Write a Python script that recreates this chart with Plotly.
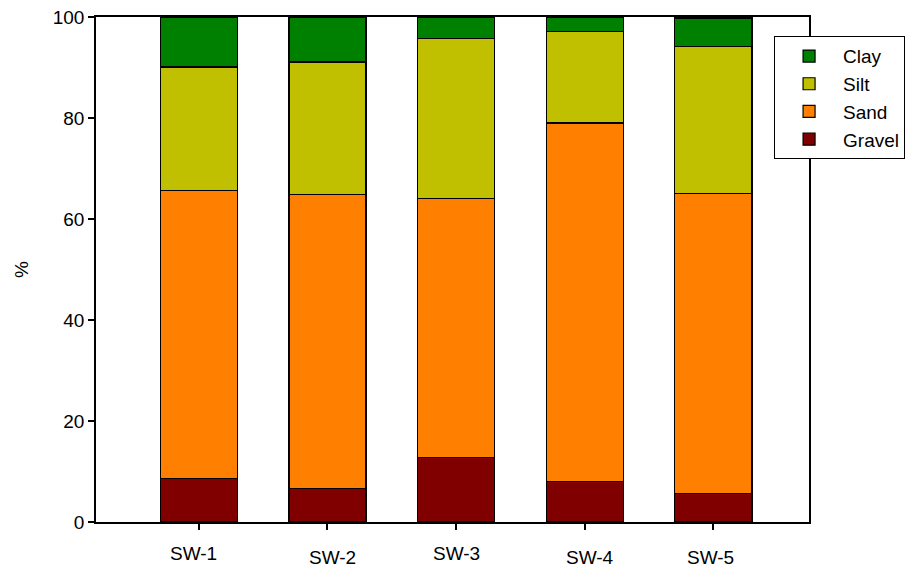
import plotly.graph_objects as go

sites = ["SW-1", "SW-2", "SW-3", "SW-4", "SW-5"]
gravel = [8.6, 6.7, 12.7, 8.1, 5.7]
sand = [57.1, 58.1, 51.3, 70.9, 59.4]
silt = [24.4, 26.3, 31.8, 18.2, 29.0]
clay = [9.9, 8.9, 4.2, 2.8, 5.7]

y_ticks = [0, 20, 40, 60, 80, 100]

# label positions (x offset in category units, y pixel shift) to mimic the reference
label_dx = [-0.04, 0.04, 0.0, 0.04, -0.02]
label_dy = [-31, -35, -31, -35, -35]

colors = {"Gravel": "#800000", "Sand": "#FF8000", "Silt": "#C0C000", "Clay": "#008000"}
series = [("Gravel", gravel), ("Sand", sand), ("Silt", silt), ("Clay", clay)]

xpos = list(range(len(sites)))
FONT = "Liberation Sans, Arial, sans-serif"

fig = go.Figure()
for name, vals in series:
    fig.add_trace(go.Bar(
        x=xpos, y=vals, name=name, width=0.6,
        marker=dict(color=colors[name], line=dict(color="black", width=1.2)),
    ))

for i, s in enumerate(sites):
    fig.add_annotation(x=xpos[i] + label_dx[i], y=0, yref="y", xref="x", text=s,
                       showarrow=False, yshift=label_dy[i],
                       font=dict(size=19, color="black", family=FONT))

fig.update_layout(
    barmode="stack",
    width=917, height=574,
    margin=dict(l=96, r=105, t=17, b=52),
    plot_bgcolor="white", paper_bgcolor="white",
    font=dict(family=FONT, size=19, color="black"),
    showlegend=True,
    legend=dict(x=0.951, y=0.962, xanchor="left", yanchor="top",
                traceorder="reversed", bordercolor="black", borderwidth=1,
                bgcolor="white", font=dict(size=19), tracegroupgap=0,
                itemwidth=58),
    bargap=0.4,
)
fig.update_xaxes(range=[-0.8, 4.744], tickvals=xpos, ticktext=["" for _ in sites],
                 ticks="outside", ticklen=6, tickcolor="black", tickwidth=1.5,
                 showline=True, linecolor="black", linewidth=1.5, mirror=True,
                 showgrid=False, zeroline=False, automargin=False)
fig.update_yaxes(range=[0, 100], tickvals=y_ticks, ticks="outside", ticklen=6,
                 tickcolor="black", tickwidth=1.5, tickfont=dict(size=19),
                 ticklabeloverflow="allow",
                 showline=True, linecolor="black", linewidth=1.5, mirror=True,
                 showgrid=False, zeroline=False, automargin=False,
                 title=dict(text="%", standoff=19, font=dict(size=19)))

fig.write_html("out.html", config={"displayModeBar": False},
               post_script="document.body.style.margin='0';")
